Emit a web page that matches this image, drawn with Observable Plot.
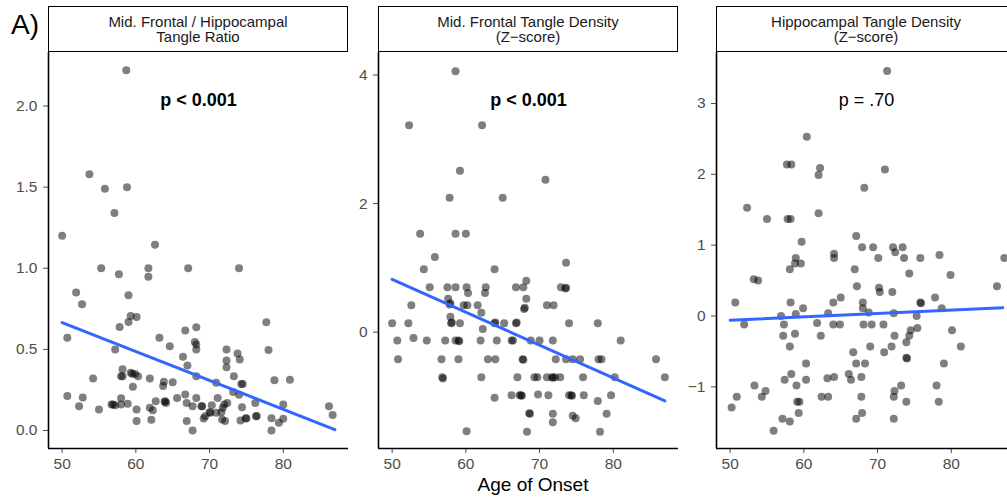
<!DOCTYPE html>
<html><head><meta charset="utf-8">
<script src="https://cdn.jsdelivr.net/npm/d3@7"></script>
<script src="https://cdn.jsdelivr.net/npm/@observablehq/plot@0.6"></script>
<style>
html,body{margin:0;padding:0;background:#fff;overflow:hidden;}
#wrap{position:relative;width:1007px;height:501px;overflow:hidden;font-family:"Liberation Sans",Arial,sans-serif;background:#fff;}
.panel{position:absolute;top:0;}
.strip{position:absolute;top:6px;height:46px;width:300px;box-sizing:border-box;border:1.6px solid #000;background:#fff;
  display:flex;align-items:center;justify-content:center;text-align:center;font-size:15px;line-height:15px;color:#1a1a1a;}
#tag{position:absolute;left:11px;top:9px;font-size:28px;color:#000;}
#xtitle{position:absolute;top:474px;left:433px;width:200px;text-align:center;font-size:19px;color:#000;}
</style></head>
<body><div id="wrap"><div id="tag">A)</div><div id="xtitle">Age of Onset</div></div>
<script>
// ---- data ----
const panelTitles = ["Mid. Frontal / Hippocampal\nTangle Ratio", "Mid. Frontal Tangle Density\n(Z\u2212score)", "Hippocampal Tangle Density\n(Z\u2212score)"];
const pLabels = ["p < 0.001", "p < 0.001", "p = .70"];
const xTicks = [50, 60, 70, 80];
const yTicks1 = [0, 0.5, 1, 1.5, 2];
const yTicks2 = [0, 2, 4];
const yTicks3 = [-1, 0, 1, 2, 3];

const ratioAge = [50.0,58.7,53.7,55.8,58.8,57.1,62.6,55.3,61.7,67.1,74.0,57.7,61.7,51.9,52.7,59.0,59.3,60.1,59.0,57.8,50.7,63.2,64.6,66.7,68.2,68.0,68.2,68.2,77.7,78.0,57.2,66.4,67.0,72.3,72.3,72.3,73.8,74.1,73.3,74.3,74.5,54.2,58.2,58.2,58.0,59.3,59.5,59.9,60.3,59.6,61.9,63.8,63.7,65.0,68.2,70.9,78.8,80.9,50.7,52.8,52.3,55.0,56.9,56.7,57.2,58.0,58.0,58.9,60.1,60.1,61.9,62.3,62.1,62.7,63.9,64.0,64.1,65.6,66.7,66.9,66.9,67.7,67.7,68.2,68.9,69.0,69.2,69.4,70.0,70.1,70.3,71.1,70.9,71.6,71.8,72.0,72.4,71.7,72.1,73.2,74.0,74.4,74.2,74.9,75.0,76.2,76.3,76.4,78.4,78.4,79.4,80.0,80.0,86.2,86.7];
const ratioVal = [1.20,2.22,1.58,1.49,1.50,1.34,1.145,1.00,1.00,1.00,1.00,0.963,0.947,0.85,0.778,0.833,0.706,0.70,0.669,0.638,0.572,0.572,0.52,0.617,0.636,0.545,0.53,0.50,0.667,0.496,0.50,0.455,0.40,0.50,0.432,0.39,0.475,0.438,0.335,0.286,0.286,0.321,0.377,0.335,0.335,0.356,0.35,0.348,0.335,0.27,0.321,0.30,0.274,0.298,0.335,0.294,0.309,0.313,0.212,0.204,0.15,0.13,0.16,0.16,0.156,0.198,0.16,0.165,0.13,0.058,0.14,0.125,0.066,0.18,0.177,0.18,0.17,0.20,0.222,0.17,0.058,0.15,0.0,0.20,0.15,0.15,0.074,0.088,0.113,0.11,0.156,0.20,0.109,0.113,0.14,0.16,0.17,0.068,0.058,0.237,0.22,0.144,0.062,0.074,0.076,0.17,0.088,0.09,0.076,0.0,0.047,0.16,0.072,0.15,0.095];

const frontalAge = [58.6,52.3,62.2,59.2,70.8,57.8,65.0,53.8,58.6,60.0,55.8,54.3,63.9,73.6,55.1,57.5,58.6,60.1,60.3,62.7,62.6,66.8,67.8,68.2,72.9,73.5,73.6,57.6,57.8,57.9,52.6,59.7,60.2,61.6,62.1,68.2,67.9,68.0,71.0,71.9,57.9,50.0,52.2,58.0,58.1,59.2,62.3,63.9,64.0,65.2,66.8,66.9,74.0,77.9,50.7,52.9,54.7,57.2,58.6,59.0,59.1,62.0,64.2,66.2,66.4,68.8,70.0,71.8,81.0,50.8,56.7,59.0,63.0,64.0,67.7,67.8,72.2,73.6,74.5,75.5,78.0,78.4,85.8,56.8,56.9,62.1,67.0,69.3,69.7,71.0,71.7,71.8,72.1,72.8,75.9,80.2,87.0,63.9,66.2,67.3,67.5,67.6,69.8,71.2,74.0,74.3,74.4,76.0,77.9,79.7,68.6,68.7,71.8,71.8,74.5,74.9,79.1,60.1,68.3,78.2];
const frontalVal = [4.06,3.22,3.22,2.51,2.37,2.09,2.09,1.53,1.53,1.53,1.17,0.98,0.98,1.08,0.70,0.70,0.70,0.70,0.61,0.70,0.61,0.70,0.70,0.80,0.70,0.68,0.69,0.52,0.43,0.45,0.42,0.42,0.42,0.42,0.30,0.52,0.36,0.38,0.42,0.42,0.24,0.14,0.14,0.14,0.15,0.14,0.05,0.14,0.15,0.14,0.14,0.15,0.14,0.14,-0.13,-0.09,-0.13,-0.13,-0.13,-0.13,-0.14,-0.13,-0.13,-0.13,-0.13,-0.13,-0.13,-0.13,-0.13,-0.42,-0.42,-0.42,-0.42,-0.42,-0.42,-0.43,-0.42,-0.42,-0.42,-0.42,-0.42,-0.42,-0.42,-0.70,-0.72,-0.70,-0.70,-0.70,-0.70,-0.70,-0.70,-0.71,-0.70,-0.70,-0.70,-0.70,-0.70,-1.02,-0.98,-0.98,-0.98,-0.99,-0.97,-0.98,-0.98,-0.98,-0.99,-0.98,-1.07,-0.98,-1.26,-1.27,-1.27,-1.40,-1.30,-1.34,-1.27,-1.54,-1.55,-1.55];

const hippoAge = [71.3,60.4,57.7,58.3,62.2,62.0,71.0,68.2,52.3,55.0,57.8,58.2,62.0,59.7,67.1,67.9,69.4,72.1,73.4,64.1,72.4,64.1,58.9,59.6,58.8,70.1,73.6,75.8,78.4,87.2,58.1,66.9,74.3,79.9,53.2,53.8,67.2,70.2,70.3,72.0,86.2,50.7,58.2,64.0,65.0,68.0,68.0,75.8,75.9,77.8,78.7,59.9,58.9,56.9,63.3,68.8,72.2,75.3,51.9,57.3,61.8,64.0,64.9,68.1,69.2,70.8,57.2,58.8,62.3,72.3,74.5,74.3,75.4,80.1,73.9,58.1,69.0,71.9,81.3,66.7,70.9,73.9,74.0,60.3,67.1,68.3,79.0,58.3,57.4,60.3,63.2,64.1,66.1,66.4,67.8,53.3,59.0,73.2,78.0,54.8,72.3,50.9,54.3,62.4,63.3,67.8,72.2,50.2,59.1,59.4,73.9,78.3,59.3,67.9,57.1,58.1,67.1,72.2,55.9];
const hippoVal = [3.46,2.53,2.14,2.14,2.09,1.99,2.07,1.81,1.53,1.37,1.37,1.37,1.45,1.05,1.13,0.97,0.97,0.97,0.97,0.88,0.90,0.82,0.82,0.74,0.74,0.82,0.82,0.82,0.86,0.82,0.66,0.66,0.60,0.58,0.52,0.50,0.42,0.40,0.34,0.34,0.42,0.19,0.19,0.19,0.26,0.19,0.11,0.19,0.18,0.26,0.11,0.11,0.03,0.0,0.04,0.05,0.04,0.0,-0.12,-0.12,-0.10,-0.12,-0.12,-0.12,-0.12,-0.12,-0.28,-0.25,-0.28,-0.28,-0.20,-0.28,-0.17,-0.20,-0.37,-0.43,-0.43,-0.43,-0.43,-0.51,-0.51,-0.59,-0.60,-0.67,-0.67,-0.67,-0.67,-0.82,-0.90,-0.90,-0.88,-0.86,-0.82,-0.90,-0.86,-0.98,-0.98,-0.98,-0.98,-1.06,-1.06,-1.14,-1.14,-1.14,-1.14,-1.14,-1.14,-1.29,-1.21,-1.21,-1.21,-1.21,-1.37,-1.37,-1.45,-1.49,-1.45,-1.45,-1.62];

const fitAge = [50, 87];
const ratioFit = [0.665, 0.005];
const frontalFit = [0.82, -1.07];
const hippoFit = [-0.06, 0.117];

// ---- scales config ----
const xDomain = [48.15, 88.85];
const yDomains = [[-0.111, 2.33], [-1.81, 4.35], [-1.87, 3.72]];

const minusInt = d => d3.format("d")(d).replace("-", "\u2212");
const panels = [
  {left: 0, ages: ratioAge, vals: ratioVal, fit: ratioFit, ticks: yTicks1, fmt: d3.format(".1f"), bold: true},
  {left: 330, ages: frontalAge, vals: frontalVal, fit: frontalFit, ticks: yTicks2, fmt: minusInt, bold: true},
  {left: 668, ages: hippoAge, vals: hippoVal, fit: hippoFit, ticks: yTicks3, fmt: minusInt, bold: false}
];

const wrap = document.getElementById("wrap");
panels.forEach((p, i) => {
  const pts = p.ages.map((a, j) => ({age: a, val: p.vals[j]}));
  const fit = fitAge.map((a, j) => ({age: a, val: p.fit[j]}));
  const yd = yDomains[i];
  const chart = Plot.plot({
    width: 350, height: 501,
    marginLeft: 48, marginRight: 2, marginTop: 52, marginBottom: 53,
    style: {fontFamily: '"Liberation Sans", Arial, sans-serif', fontSize: "15.5px", color: "#4d4d4d", background: "transparent", overflow: "visible"},
    x: {domain: xDomain, ticks: xTicks, tickSize: 5, tickPadding: 4, label: null},
    y: {domain: yd, ticks: p.ticks, tickFormat: p.fmt, tickSize: 5, tickPadding: 6, label: null},
    marks: [
      Plot.dot(pts, {x: "age", y: "val", r: 4, fill: "#000", fillOpacity: 0.5, stroke: "none"}),
      Plot.line(fit, {x: "age", y: "val", stroke: "#3366FF", strokeWidth: 3}),
      Plot.text([pLabels[i]], {frameAnchor: "top", lineAnchor: "middle", dy: 48, fontSize: 18, fontWeight: p.bold ? "bold" : "normal", fill: "#000"}),
      Plot.ruleX([xDomain[0]], {stroke: "#000", strokeWidth: 1.6}),
      Plot.ruleY([yd[0]], {stroke: "#000", strokeWidth: 1.6})
    ]
  });
  chart.classList.add("panel");
  chart.style.left = p.left + "px";
  wrap.appendChild(chart);
  const strip = document.createElement("div");
  strip.className = "strip";
  strip.style.left = (p.left + 48) + "px";
  strip.innerHTML = panelTitles[i].split("\n").join("<br>");
  wrap.appendChild(strip);
});
</script>
</body></html>
